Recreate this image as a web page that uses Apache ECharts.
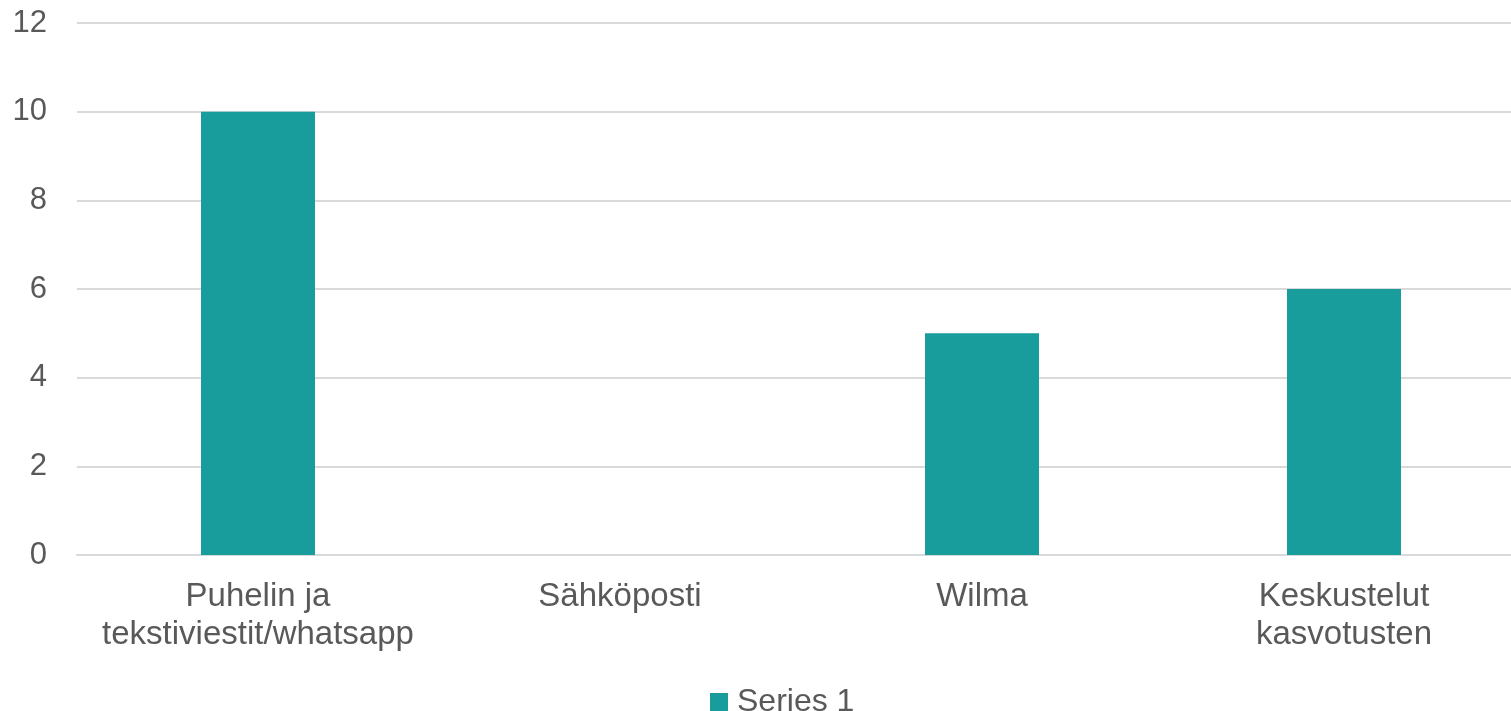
<!DOCTYPE html>
<html><head><meta charset="utf-8">
<script src="https://cdn.jsdelivr.net/npm/echarts@6/dist/echarts.min.js"></script>
<style>html,body{margin:0;padding:0;background:#fff}#c{width:1511px;height:711px}</style>
</head><body><div id="c"></div>
<script>
const categories = ["Puhelin ja\ntekstiviestit/whatsapp", "Sähköposti", "Wilma", "Keskustelut\nkasvotusten"];
const series1 = [10, 0, 5, 6];
const seriesName = "Series 1";
const FONT = "Liberation Sans";
const chart = echarts.init(document.getElementById('c'), null, {renderer: 'canvas'});
chart.setOption({
  animation: false,
  textStyle: {fontFamily: FONT},
  grid: {left: 77, top: 23, width: 1448, height: 532, containLabel: false, outerBoundsMode: 'none'},
  legend: {
    top: 681, left: 705, itemWidth: 18, itemHeight: 18, itemGap: 10,
    icon: 'rect', data: [seriesName],
    textStyle: {fontFamily: FONT, fontSize: 32, color: '#595959', padding: [0,0,0,4]}
  },
  xAxis: {
    type: 'category', data: categories,
    axisLine: {lineStyle: {color: '#d9d9d9', width: 2}},
    axisTick: {show: false},
    axisLabel: {fontFamily: FONT, fontSize: 33, color: '#595959', margin: 23, lineHeight: 38, interval: 0}
  },
  yAxis: {
    type: 'value', min: 0, max: 12, interval: 2,
    axisLine: {show: false}, axisTick: {show: false},
    splitLine: {lineStyle: {color: '#d9d9d9', width: 2}},
    axisLabel: {fontFamily: FONT, fontSize: 31, color: '#595959', margin: 30}
  },
  series: [{
    name: seriesName, type: 'bar', data: series1, barWidth: 114,
    itemStyle: {color: '#189C9C'}
  }]
});
</script></body></html>
